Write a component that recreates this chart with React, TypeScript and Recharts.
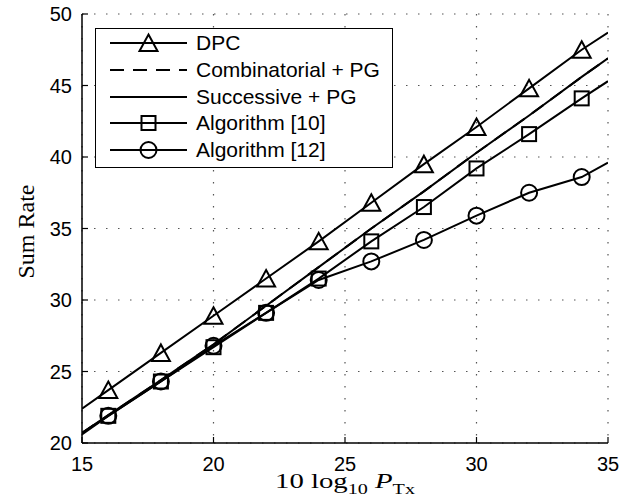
import React from "react";
import { LineChart, Line, XAxis, YAxis, CartesianGrid, Label } from "recharts";

// 10 log10 P_Tx (dB), markers on even points only
const powerDb = [15, 16, 18, 20, 22, 24, 26, 28, 30, 32, 34, 35];
const dpc = [22.4, 23.7, 26.3, 28.9, 31.5, 34.1, 36.8, 39.5, 42.1, 44.8, 47.5, 48.7];
const combinatorialPg = [20.7, 21.95, 24.4, 26.9, 29.6, 32.3, 35.0, 37.6, 40.3, 42.9, 45.6, 46.9];
const successivePg = [20.7, 21.95, 24.4, 26.9, 29.6, 32.3, 35.0, 37.6, 40.3, 42.9, 45.6, 46.9];
const algorithm10 = [20.7, 21.9, 24.3, 26.7, 29.1, 31.5, 34.1, 36.5, 39.2, 41.6, 44.1, 45.3];
const algorithm12 = [20.6, 21.9, 24.3, 26.8, 29.1, 31.4, 32.7, 34.2, 35.9, 37.5, 38.6, 39.6];

const xTicks = [15, 20, 25, 30, 35];
const yTicks = [20, 25, 30, 35, 40, 45, 50];

const chartData = powerDb.map((p, i) => ({
    p,
    dpc: dpc[i],
    comb: combinatorialPg[i],
    succ: successivePg[i],
    alg10: algorithm10[i],
    alg12: algorithm12[i],
}));

const sans = "'Liberation Sans', Arial, sans-serif";
const serif = "'Liberation Serif', 'Times New Roman', serif";

const showMarker = (p: number) => p % 2 === 0;

const TriangleMark = ({ cx, cy }: { cx: number; cy: number }) => (
    <path
        d={`M${cx},${cy - 8.5} L${cx + 9},${cy + 8} L${cx - 9},${cy + 8} Z`}
        fill="none"
        stroke="#000"
        strokeWidth={2}
    />
);
const SquareMark = ({ cx, cy }: { cx: number; cy: number }) => (
    <rect x={cx - 7} y={cy - 7} width={14} height={14} fill="none" stroke="#000" strokeWidth={2} />
);
const CircleMark = ({ cx, cy }: { cx: number; cy: number }) => (
    <circle cx={cx} cy={cy} r={8} fill="none" stroke="#000" strokeWidth={2} />
);

const makeDot = (Mark: any) => (props: any) => {
    const { cx, cy, payload, index } = props;
    if (!showMarker(payload.p)) return <g key={`d-${index}`} />;
    return (
        <g key={`d-${index}`}>
            <Mark cx={cx} cy={cy} />
        </g>
    );
};

const legendItems = [
    { name: "DPC", mark: TriangleMark, dash: undefined },
    { name: "Combinatorial + PG", mark: null, dash: "14 9" },
    { name: "Successive + PG", mark: null, dash: undefined },
    { name: "Algorithm [10]", mark: SquareMark, dash: undefined },
    { name: "Algorithm [12]", mark: CircleMark, dash: undefined },
];

const XLabel = (props: any) => {
    const { viewBox } = props;
    const cx = viewBox.x + viewBox.width / 2;
    return (
        <text
            x={cx}
            y={488}
            textAnchor="middle"
            fontFamily={serif}
            fontSize={20}
            fill="#000"
            textLength={140}
            lengthAdjust="spacingAndGlyphs"
        >
            10 log
            <tspan dy={6} fontSize={14}>10</tspan>
            <tspan dy={-6} fontStyle="italic">{" P"}</tspan>
            <tspan dy={6} fontSize={14}>Tx</tspan>
        </text>
    );
};

const YLabel = (props: any) => {
    const { viewBox } = props;
    const cy = viewBox.y + viewBox.height / 2 + 3;
    return (
        <text
            x={34}
            y={cy}
            transform={`rotate(-90, 34, ${cy})`}
            textAnchor="middle"
            fontFamily={serif}
            fontSize={24}
            fill="#000"
        >
            Sum Rate
        </text>
    );
};

const axisLine = { stroke: "#000", strokeWidth: 1.5 };
const tickLine = { stroke: "#000", strokeWidth: 1.2 };
const tickStyle = { fill: "#000", fontSize: 20, fontFamily: sans };

export default function App() {
    return (
        <div style={{ position: "absolute", left: 0, top: 0, width: 639, height: 499, background: "#fff" }}>
            <LineChart width={639} height={499} data={chartData} margin={{ top: 14, right: 31, left: 0, bottom: 0 }}>
                <CartesianGrid stroke="#555" strokeWidth={1.2} strokeDasharray="1.5 10.5" />
                <XAxis
                    dataKey="p"
                    type="number"
                    domain={[15, 35]}
                    ticks={xTicks}
                    height={56}
                    axisLine={axisLine}
                    tickLine={tickLine}
                    tickSize={-6}
                    tickMargin={20}
                    tick={tickStyle}
                    allowDataOverflow
                >
                    <Label content={XLabel} />
                </XAxis>
                <XAxis
                    xAxisId="top"
                    orientation="top"
                    dataKey="p"
                    type="number"
                    domain={[15, 35]}
                    ticks={xTicks}
                    height={0}
                    axisLine={axisLine}
                    tickLine={tickLine}
                    tickSize={-6}
                    tickFormatter={() => ""}
                />
                <YAxis
                    type="number"
                    domain={[20, 50]}
                    ticks={yTicks}
                    width={82}
                    axisLine={axisLine}
                    tickLine={tickLine}
                    tickSize={-6}
                    tickMargin={16}
                    tick={tickStyle}
                    allowDataOverflow
                >
                    <Label content={YLabel} />
                </YAxis>
                <YAxis
                    yAxisId="right"
                    orientation="right"
                    type="number"
                    domain={[20, 50]}
                    ticks={yTicks}
                    width={0}
                    axisLine={axisLine}
                    tickLine={tickLine}
                    tickSize={-6}
                    tickFormatter={() => ""}
                />
                <Line dataKey="succ" stroke="#000" strokeWidth={2} dot={false} isAnimationActive={false} />
                <Line dataKey="comb" stroke="#000" strokeWidth={2} strokeDasharray="14 9" dot={false} isAnimationActive={false} />
                <Line dataKey="dpc" stroke="#000" strokeWidth={2} dot={makeDot(TriangleMark)} isAnimationActive={false} />
                <Line dataKey="alg10" stroke="#000" strokeWidth={2} dot={makeDot(SquareMark)} isAnimationActive={false} />
                <Line dataKey="alg12" stroke="#000" strokeWidth={2} dot={makeDot(CircleMark)} isAnimationActive={false} />
            </LineChart>

            <div
                style={{
                    position: "absolute",
                    left: 95,
                    top: 28,
                    width: 298,
                    height: 140,
                    boxSizing: "border-box",
                    border: "1.5px solid #000",
                    background: "#fff",
                    paddingTop: 1,
                }}
            >
                {legendItems.map((item) => (
                    <div key={item.name} style={{ display: "flex", alignItems: "center", height: 26.7 }}>
                        <svg width={77} height={26} style={{ marginLeft: 14, flex: "none" }}>
                            <line x1={0} y1={13} x2={77} y2={13} stroke="#000" strokeWidth={2} strokeDasharray={item.dash} />
                            {item.mark ? <item.mark cx={38.5} cy={13} /> : null}
                        </svg>
                        <span style={{ marginLeft: 9, fontFamily: sans, fontSize: 21, color: "#000", lineHeight: "26px" }}>
                            {item.name}
                        </span>
                    </div>
                ))}
            </div>
        </div>
    );
}
